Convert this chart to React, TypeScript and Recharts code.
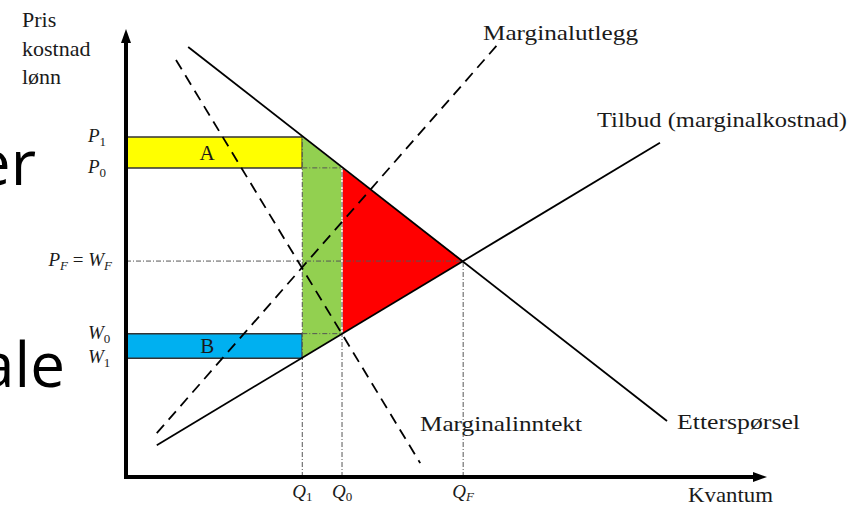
import {
  ComposedChart,
  Line,
  Area,
  XAxis,
  YAxis,
  ReferenceLine,
  ReferenceArea,
  ReferenceDot,
} from 'recharts';

// key levels (quantity 0..100, price 0..100)
const qTicks = [27.5, 33.7, 52.6]; // Q1, Q0, QF
const qTickLabels = [
  [['Q', '1']],
  [['Q', '0']],
  [['Q', 'F']],
];
const pTicks = [26.5, 32.0, 48.2, 69.0, 75.9]; // W1, W0, PF=WF, P0, P1
const pTickLabels = [
  [['W', '1']],
  [['W', '0']],
  [['P', 'F'], ['W', 'F']],
  [['P', '0']],
  [['P', '1']],
];

const [Q1, Q0, QF] = qTicks;
const [W1, W0, PF, P0, P1] = pTicks;

// curves
const demand = [
  { q: 9.7, p: 96.0 },
  { q: 84.4, p: 12.5 },
];
const supply = [
  { q: 4.8, p: 7.1 },
  { q: 83.3, p: 74.6 },
];
const marginalOutlay = [
  { q: 4.8, p: 9.8 },
  { q: 57.9, p: 96.4 },
];
const marginalRevenue = [
  { q: 7.8, p: 93.1 },
  { q: 45.9, p: 3.1 },
];

// shaded regions
const greenBand = [
  { q: Q1, band: [W1, P1] },
  { q: Q0, band: [W0, P0] },
];
const redBand = [
  { q: Q0, band: [W0, P0] },
  { q: QF, band: [PF, PF] },
];

const SERIF = "'Liberation Serif', 'Times New Roman', serif";
const INK = '#1a1a1a';

const renderParts = (parts: string[][], sub = 4) => {
  const out: any[] = [];
  parts.forEach(([b, s], i) => {
    if (i > 0)
      out.push(
        <tspan key={`e${i}`} dy={-sub} fontStyle="normal">
          {'\u00A0=\u00A0'}
        </tspan>
      );
    out.push(
      <tspan key={`b${i}`} fontStyle="italic">
        {b}
      </tspan>
    );
    out.push(
      <tspan
        key={`s${i}`}
        dy={sub}
        fontSize={13}
        fontStyle={/\d/.test(s) ? 'normal' : 'italic'}
      >
        {s}
      </tspan>
    );
  });
  return out;
};

const PriceTick = (props: any) => {
  const { x, y, payload } = props;
  const idx = pTicks.indexOf(payload.value);
  const parts = pTickLabels[idx] || [];
  const compound = parts.length > 1;
  return (
    <text
      x={compound ? x : x - 24}
      y={y}
      dy={5}
      textAnchor={compound ? 'end' : 'start'}
      fontFamily={SERIF}
      fontSize={19}
      fill={INK}
    >
      {renderParts(parts)}
    </text>
  );
};

const QuantityTick = (props: any) => {
  const { x, y, payload } = props;
  const idx = qTicks.indexOf(payload.value);
  const parts = qTickLabels[idx] || [];
  return (
    <text
      x={x}
      y={y}
      dy={21}
      textAnchor="middle"
      fontFamily={SERIF}
      fontSize={19}
      fill={INK}
    >
      {renderParts(parts, 3)}
    </text>
  );
};

const ArrowUp = ({ cx, cy }: any) => (
  <path d={`M${cx},${cy} L${cx - 5},${cy + 14} L${cx + 5},${cy + 14} Z`} fill="#000" />
);
const ArrowRight = ({ cx, cy }: any) => (
  <path d={`M${cx},${cy} L${cx - 14},${cy - 5} L${cx - 14},${cy + 5} Z`} fill="#000" />
);

const guide = { stroke: '#555', strokeWidth: 1, strokeDasharray: '5 2 1 2' };

export default function App() {
  return (
    <div
      style={{
        position: 'absolute',
        left: 0,
        top: 0,
        width: 863,
        height: 506,
        background: '#fff',
      }}
    >
      <ComposedChart
        width={863}
        height={506}
        margin={{ top: 29, right: 96, left: 0, bottom: 0 }}
      >
        <XAxis
          dataKey="q"
          type="number"
          domain={[0, 100]}
          ticks={qTicks}
          height={29}
          axisLine={false}
          tickLine={false}
          tickSize={0}
          tickMargin={0}
          tick={<QuantityTick />}
          interval={0}
        />
        <YAxis
          dataKey="p"
          type="number"
          domain={[0, 100]}
          ticks={pTicks}
          width={126}
          axisLine={false}
          tickLine={false}
          tickSize={0}
          tickMargin={14}
          tick={<PriceTick />}
          interval={0}
        />

        <ReferenceArea
          x1={0}
          x2={Q1}
          y1={P0}
          y2={P1}
          fill="#FFFF00"
          fillOpacity={1}
          stroke="#333"
          strokeWidth={1.5}
          label={{ value: 'A', position: 'center', fill: INK, fontSize: 21, fontFamily: SERIF, dx: -7 }}
        />
        <ReferenceArea
          x1={0}
          x2={Q1}
          y1={W1}
          y2={W0}
          fill="#00B0F0"
          fillOpacity={1}
          stroke="#333"
          strokeWidth={1.5}
          label={{ value: 'B', position: 'center', fill: INK, fontSize: 21, fontFamily: SERIF, dx: -7 }}
        />

        <Area
          data={greenBand}
          dataKey="band"
          type="linear"
          fill="#92D050"
          fillOpacity={1}
          stroke="none"
          isAnimationActive={false}
          dot={false}
          activeDot={false}
        />
        <Area
          data={redBand}
          dataKey="band"
          type="linear"
          fill="#FF0000"
          fillOpacity={1}
          stroke="none"
          isAnimationActive={false}
          dot={false}
          activeDot={false}
        />

        <ReferenceLine
          segment={[
            { x: Q0, y: W0 },
            { x: Q0, y: P0 },
          ]}
          stroke="#fff"
          strokeWidth={1.5}
        />

        <ReferenceLine segment={[{ x: 0, y: PF }, { x: QF, y: PF }]} {...guide} />
        <ReferenceLine segment={[{ x: Q1, y: P0 }, { x: Q0, y: P0 }]} {...guide} />
        <ReferenceLine segment={[{ x: Q1, y: W0 }, { x: Q0, y: W0 }]} {...guide} />
        <ReferenceLine segment={[{ x: Q1, y: 0 }, { x: Q1, y: P1 }]} {...guide} />
        <ReferenceLine segment={[{ x: Q0, y: 0 }, { x: Q0, y: P0 }]} {...guide} />
        <ReferenceLine segment={[{ x: QF, y: 0 }, { x: QF, y: PF }]} {...guide} />

        <Line
          data={demand}
          dataKey="p"
          type="linear"
          stroke="#000"
          strokeWidth={1.8}
          dot={false}
          activeDot={false}
          isAnimationActive={false}
        />
        <Line
          data={supply}
          dataKey="p"
          type="linear"
          stroke="#000"
          strokeWidth={1.8}
          dot={false}
          activeDot={false}
          isAnimationActive={false}
        />
        <Line
          data={marginalOutlay}
          dataKey="p"
          type="linear"
          stroke="#000"
          strokeWidth={1.8}
          strokeDasharray="11 7"
          dot={false}
          activeDot={false}
          isAnimationActive={false}
        />
        <Line
          data={marginalRevenue}
          dataKey="p"
          type="linear"
          stroke="#000"
          strokeWidth={1.8}
          strokeDasharray="11 7"
          dot={false}
          activeDot={false}
          isAnimationActive={false}
        />

        <ReferenceLine
          segment={[{ x: 0, y: 0 }, { x: 0, y: 97 }]}
          stroke="#000"
          strokeWidth={4}
        />
        <ReferenceLine
          segment={[{ x: 0, y: 0 }, { x: 98, y: 0 }]}
          stroke="#000"
          strokeWidth={4}
          strokeLinecap="square"
        />
        <ReferenceDot x={0} y={100} r={0} shape={<ArrowUp />} />
        <ReferenceDot x={100} y={0} r={0} shape={<ArrowRight />} />
      </ComposedChart>

      <svg
        width={863}
        height={506}
        style={{ position: 'absolute', left: 0, top: 0, pointerEvents: 'none' }}
      >
        <g fontFamily="'Open Sans', sans-serif" fontSize={62} fill="#000">
          <text x={36} y={185} textAnchor="end">er</text>
          <text x={65} y={387} textAnchor="end">ale</text>
        </g>
        <g fontFamily={SERIF} fontSize={22} fill={INK}>
          <text x={22} y={27}>Pris</text>
          <text x={22} y={56}>kostnad</text>
          <text x={22} y={84}>lønn</text>
        </g>
        <g fontFamily={SERIF} fontSize={22} fill={INK}>
          <text x={483} y={40} textLength={155} lengthAdjust="spacingAndGlyphs">Marginalutlegg</text>
          <text x={597} y={127} textLength={250} lengthAdjust="spacingAndGlyphs">Tilbud (marginalkostnad)</text>
          <text x={420} y={431} textLength={162} lengthAdjust="spacingAndGlyphs">Marginalinntekt</text>
          <text x={677} y={429} textLength={123} lengthAdjust="spacingAndGlyphs">Etterspørsel</text>
          <text x={688} y={502} textLength={85} lengthAdjust="spacingAndGlyphs">Kvantum</text>
        </g>
      </svg>
    </div>
  );
}
